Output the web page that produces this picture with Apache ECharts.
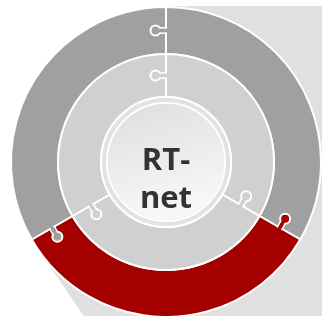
<!DOCTYPE html>
<html>
<head>
<meta charset="utf-8">
<script src="https://cdn.jsdelivr.net/npm/echarts@6/dist/echarts.min.js"></script>
<style>
  html, body { margin: 0; padding: 0; background: #fff; }
  #chart { width: 322px; height: 316px; }
</style>
</head>
<body>
<div id="chart"></div>
<script>
// ring pieces, three equal parts each
const outerPieces = ['Top right', 'Bottom', 'Left']
const outerValues = [1, 1, 1]
const innerPieces = ['Top right', 'Bottom', 'Left']
const innerValues = [1, 1, 1]
const centerLabel = 'RT-\nnet'

// puzzle knobs: [divider angle, ring, colour of the piece it belongs to]
const knobs = [
  [90, 'outer', 'gray'],
  [90, 'inner', 'light'],
  [-30, 'outer', 'red'],
  [-30, 'inner', 'light'],
  [210, 'outer', 'gray'],
  [210, 'inner', 'light'],
]

const colors = { gray: '#a0a0a0', red: '#a50000', light: '#d0d0d0' }
const CX = 166
const CY = 162
const R_OUT = 155
const R_MID = 108
const R_IN = 65

const chart = echarts.init(document.getElementById('chart'))

const ringRadius = { outer: (R_OUT + R_MID) / 2, inner: (R_MID + R_IN) / 2 }

function renderKnob(params, api) {
  const a = (api.value(0) * Math.PI) / 180
  const item = knobs[params.dataIndex]
  const r = ringRadius[item[1]]
  const fill = colors[item[2]]
  const ux = Math.cos(a)
  const uy = -Math.sin(a)
  const px = -Math.sin(a)
  const py = -Math.cos(a)
  const bx = CX + ux * r
  const by = CY + uy * r
  const pt = (off, side) => [bx + px * off + ux * side, by + py * off + uy * side]
  return {
    type: 'group',
    children: [
      {
        type: 'circle',
        shape: { cx: pt(10.5, 0)[0], cy: pt(10.5, 0)[1], r: 5 },
        style: { fill: fill, stroke: '#fff', lineWidth: 2 },
      },
      {
        type: 'polyline',
        shape: { points: [pt(-1, -2.6), pt(6.5, -2.6)] },
        style: { stroke: '#fff', lineWidth: 1.7, fill: null },
      },
      {
        type: 'polyline',
        shape: { points: [pt(-1, 2.6), pt(6.5, 2.6)] },
        style: { stroke: '#fff', lineWidth: 1.7, fill: null },
      },
      {
        type: 'polygon',
        shape: { points: [pt(-1.6, -1.75), pt(7, -1.75), pt(7, 1.75), pt(-1.6, 1.75)] },
        style: { fill: fill },
      },
    ],
  }
}

// long shadow behind the rings
const tx = CX - R_OUT * 0.823
const ty = CY + R_OUT * 0.568

chart.setOption({
  animation: false,
  graphic: [
    {
      type: 'polygon',
      z: -10,
      silent: true,
      shape: {
        points: [
          [CX, CY - R_OUT - 1],
          [322, CY - R_OUT - 1],
          [322, 316],
          [tx + (316 - ty) / 1.45, 316],
          [tx, ty],
        ],
      },
      style: { fill: '#e0e0e0' },
    },
    {
      type: 'text',
      z: 100,
      silent: true,
      x: CX,
      y: 180,
      style: {
        text: centerLabel,
        textAlign: 'center',
        textVerticalAlign: 'middle',
        fontFamily: 'Open Sans',
        fontWeight: 700,
        fontSize: 31,
        lineHeight: 38,
        fill: '#333',
      },
    },
  ],
  series: [
    {
      type: 'pie',
      silent: true,
      center: [CX, CY],
      radius: [R_MID, R_OUT],
      startAngle: 90,
      clockwise: true,
      label: { show: false },
      itemStyle: { borderColor: '#fff', borderWidth: 2 },
      data: outerPieces.map((n, i) => ({
        name: n,
        value: outerValues[i],
        itemStyle: { color: i === 1 ? colors.red : colors.gray },
      })),
    },
    {
      type: 'pie',
      silent: true,
      center: [CX, CY],
      radius: [R_IN, R_MID],
      startAngle: 90,
      clockwise: true,
      label: { show: false },
      itemStyle: { borderColor: '#fff', borderWidth: 2, color: colors.light },
      data: innerPieces.map((n, i) => ({ name: n, value: innerValues[i] })),
    },
    {
      type: 'pie',
      silent: true,
      center: [CX, CY],
      radius: [59, R_IN],
      label: { show: false },
      itemStyle: { borderColor: '#fff', borderWidth: 2, color: '#e2e2e2' },
      data: [{ name: 'rim', value: 1 }],
    },
    {
      type: 'pie',
      silent: true,
      center: [CX, CY],
      radius: [0, 58],
      label: { show: false },
      itemStyle: {
        color: {
          type: 'linear',
          x: 0,
          y: 0,
          x2: 0.3,
          y2: 1,
          colorStops: [
            { offset: 0, color: '#dedede' },
            { offset: 1, color: '#f7f7f7' },
          ],
        },
      },
      data: [{ name: 'center', value: 1 }],
    },
    {
      type: 'custom',
      coordinateSystem: 'none',
      silent: true,
      z: 5,
      renderItem: renderKnob,
      data: knobs.map((k) => [k[0]]),
    },
  ],
})
</script>
</body>
</html>
